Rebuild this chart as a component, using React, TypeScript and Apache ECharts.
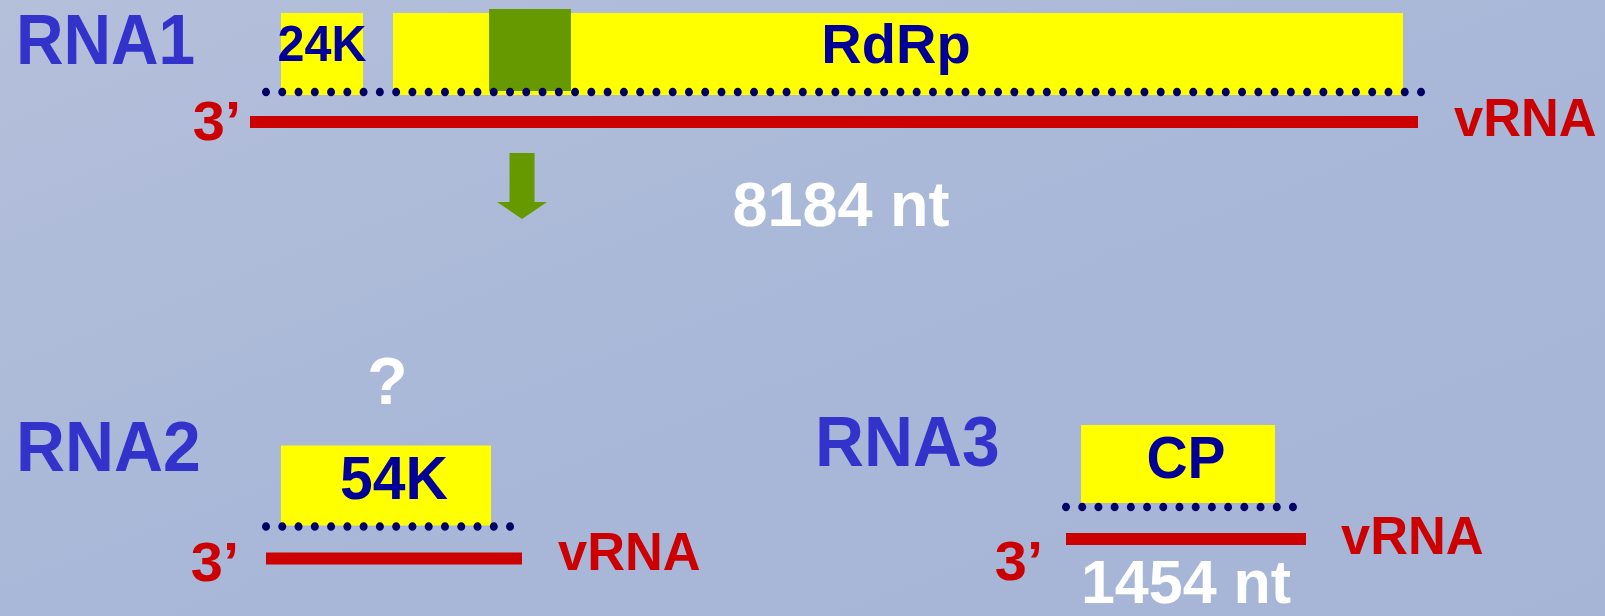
import React, { useEffect, useRef } from 'react';
import * as echarts from 'echarts';

// ---- data (nucleotide positions) ----
const rnaNames = ['RNA1', 'RNA2', 'RNA3'];
const rnaLengths = [8184, 1800, 1454]; // RNA2 length not stated
const lengthLabels = ['8184 nt', '', '1454 nt'];
const orfNames = ['24K', 'RdRp', '54K', 'CP'];
const orfRna = [0, 0, 1, 2];
const orfStart = [217, 1002, 105, 91];
const orfEnd = [792, 8079, 1582, 1266];
const readthroughRna = [0];
const readthroughStart = [1675];
const readthroughEnd = [2249];
const translatedRna = [0, 1, 2];
const translatedStart = [112, 0, 0];
const translatedEnd = [8205, 1716, 1375];
const arrowRna = [0];
const arrowPos = [1906];
const questionRna = [1];
const questionPos = [854];
const endLabel3 = '3’';
const endLabelV = 'vRNA';

// ---- layout / style ----
const FONT = 'Liberation Sans, Arial, sans-serif';
const LINE_X = [[250, 1418], [266, 522], [1066, 1306]];
const LINE_Y = [122, 561, 539];
const BOX_TOP = [-109, -113, -114];
const BOX_BOTTOM = [-27, -33, -36];
const DOTS_Y = [-30, -32, -32];
const ORF_TEXT_Y = [-79, -81.5, -82.5];
const ORF_FONT: Record<string, { size: number; sx: number; dx: number }> = {
  '24K': { size: 50, sx: 0.97, dx: 0 },
  RdRp: { size: 56, sx: 1, dx: -2 },
  '54K': { size: 62, sx: 0.95, dx: 8 },
  CP: { size: 60, sx: 0.95, dx: 8 },
};
const NAME_POS = [[16, 40, 0.94], [16, 447, 0.97], [815, 442, 0.97]];
const PRIME_POS = [[241, 121], [239, 562], [1043, 561]];
const VRNA_POS = [[1454, 117.5], [558, 551], [1341, 535]];
const LEN_POS = [[841, 204, 63], [0, 0, 0], [1186, 582, 61]];
const YELLOW = '#ffff00';
const NAVY = '#000099';
const DOT = '#000066';
const RED = '#cc0000';
const GREEN = '#669900';
const LABEL_BLUE = '#3333cc';

function buildOption() {
  const grid = LINE_X.map((lx, i) => ({
    left: lx[0],
    width: lx[1] - lx[0],
    top: LINE_Y[i] - 60,
    height: 120,
    show: false,
  }));
  const xAxis = rnaLengths.map((len, i) => ({ type: 'value', gridIndex: i, min: 0, max: len, show: false }));
  const yAxis = rnaNames.map((_, i) => ({ type: 'value', gridIndex: i, min: 0, max: 1, show: false }));

  const series: any[] = [];
  rnaNames.forEach((_, i) => {
    const base = { type: 'custom', xAxisIndex: i, yAxisIndex: i, clip: false, silent: true, encode: { x: [0, 1] } };
    // genomic RNA line
    series.push({
      ...base,
      name: 'vRNA ' + i,
      data: [[0, rnaLengths[i]]],
      renderItem: (_p: any, api: any) => {
        const s = api.coord([api.value(0), 0.5]);
        const e = api.coord([api.value(1), 0.5]);
        return { type: 'rect', shape: { x: s[0], y: s[1] - 6, width: e[0] - s[0], height: 12 }, style: { fill: RED } };
      },
    });
    // ORF boxes
    const orfData = orfNames.map((_n, k) => [orfStart[k], orfEnd[k], k]).filter((_d, k) => orfRna[k] === i);
    series.push({
      ...base,
      name: 'ORF ' + i,
      data: orfData,
      renderItem: (_p: any, api: any) => {
        const s = api.coord([api.value(0), 0.5]);
        const e = api.coord([api.value(1), 0.5]);
        const name = orfNames[api.value(2)];
        const f = ORF_FONT[name];
        return {
          type: 'group',
          children: [
            {
              type: 'rect',
              shape: { x: s[0], y: s[1] + BOX_TOP[i], width: e[0] - s[0], height: BOX_BOTTOM[i] - BOX_TOP[i] },
              style: { fill: YELLOW },
            },
            {
              type: 'text',
              x: (s[0] + e[0]) / 2 + f.dx,
              y: s[1] + ORF_TEXT_Y[i],
              scaleX: f.sx,
              style: {
                text: name,
                fill: NAVY,
                fontSize: f.size,
                fontWeight: 'bold',
                fontFamily: FONT,
                align: 'center',
                verticalAlign: 'middle',
              },
            },
          ],
        };
      },
    });
    // read-through domain
    const rtData = readthroughStart.map((v, k) => [v, readthroughEnd[k]]).filter((_d, k) => readthroughRna[k] === i);
    if (rtData.length) {
      series.push({
        ...base,
        name: 'RT ' + i,
        data: rtData,
        renderItem: (_p: any, api: any) => {
          const s = api.coord([api.value(0), 0.5]);
          const e = api.coord([api.value(1), 0.5]);
          return { type: 'rect', shape: { x: s[0], y: s[1] - 113, width: e[0] - s[0], height: 82 }, style: { fill: GREEN } };
        },
      });
    }
    // translated region (dotted)
    const trData = translatedStart.map((v, k) => [v, translatedEnd[k]]).filter((_d, k) => translatedRna[k] === i);
    series.push({
      ...base,
      name: 'dots ' + i,
      data: trData,
      renderItem: (_p: any, api: any) => {
        const s = api.coord([api.value(0), 0.5]);
        const e = api.coord([api.value(1), 0.5]);
        const len = e[0] - s[0];
        const n = Math.max(1, Math.round(len / 16.3));
        const step = len / n;
        const children: any[] = [];
        for (let k = 0; k <= n; k++) {
          children.push({ type: 'ellipse', shape: { cx: s[0] + k * step, cy: s[1] + DOTS_Y[i], rx: 4, ry: 4.3 }, style: { fill: DOT } });
        }
        return { type: 'group', children };
      },
    });
    // arrow
    const arData = arrowPos.map((v) => [v, 0.5]).filter((_d, k) => arrowRna[k] === i);
    if (arData.length) {
      series.push({
        ...base,
        name: 'arrow ' + i,
        encode: { x: 0, y: 1 },
        data: arData,
        renderItem: (_p: any, api: any) => {
          const c = api.coord([api.value(0), 0.5]);
          const x = c[0];
          const y = c[1];
          return {
            type: 'polygon',
            shape: {
              points: [
                [x - 12.5, y + 31],
                [x + 12.5, y + 31],
                [x + 12.5, y + 80],
                [x + 25, y + 80],
                [x, y + 97],
                [x - 25, y + 80],
                [x - 12.5, y + 80],
              ],
            },
            style: { fill: GREEN },
          };
        },
      });
    }
    // question mark
    const qData = questionPos.map((v) => [v, 0.5]).filter((_d, k) => questionRna[k] === i);
    if (qData.length) {
      series.push({
        ...base,
        name: 'question ' + i,
        encode: { x: 0, y: 1 },
        data: qData,
        renderItem: (_p: any, api: any) => {
          const c = api.coord([api.value(0), 0.5]);
          return {
            type: 'text',
            x: c[0],
            y: c[1] - 178,
            style: {
              text: '?',
              fill: '#ffffff',
              fontSize: 66,
              fontWeight: 'bold',
              fontFamily: FONT,
              align: 'center',
              verticalAlign: 'middle',
            },
          };
        },
      });
    }
  });

  const txt = (text: string, x: number, y: number, size: number, fill: string, align: string, sx = 1) => ({
    type: 'text',
    x,
    y,
    scaleX: sx,
    silent: true,
    style: { text, fill, fontSize: size, fontWeight: 'bold', fontFamily: FONT, align, verticalAlign: 'middle' },
  });

  const elements: any[] = [];
  rnaNames.forEach((name, i) => {
    elements.push(txt(name, NAME_POS[i][0], NAME_POS[i][1], 70, LABEL_BLUE, 'left', NAME_POS[i][2]));
    elements.push(txt(endLabel3, PRIME_POS[i][0], PRIME_POS[i][1], 55, RED, 'right', 1.05));
    elements.push(txt(endLabelV, VRNA_POS[i][0], VRNA_POS[i][1], 54, RED, 'left', 0.97));
    if (lengthLabels[i]) elements.push(txt(lengthLabels[i], LEN_POS[i][0], LEN_POS[i][1], LEN_POS[i][2], '#ffffff', 'center'));
  });

  return {
    animation: false,
    backgroundColor: new echarts.graphic.LinearGradient(0, 0, 1, 1, [
      { offset: 0, color: '#b4bfda' },
      { offset: 0.5, color: '#a9b8d8' },
      { offset: 1, color: '#a6b5d6' },
    ]),
    grid,
    xAxis,
    yAxis,
    series,
    graphic: { elements },
  };
}

export default function App() {
  const ref = useRef<HTMLDivElement>(null);
  useEffect(() => {
    document.body.style.margin = '0';
    const chart = echarts.init(ref.current!, null, { renderer: 'svg' });
    chart.setOption(buildOption() as any);
    return () => chart.dispose();
  }, []);
  return <div ref={ref} style={{ position: 'fixed', left: 0, top: 0, width: 1605, height: 616 }} />;
}
